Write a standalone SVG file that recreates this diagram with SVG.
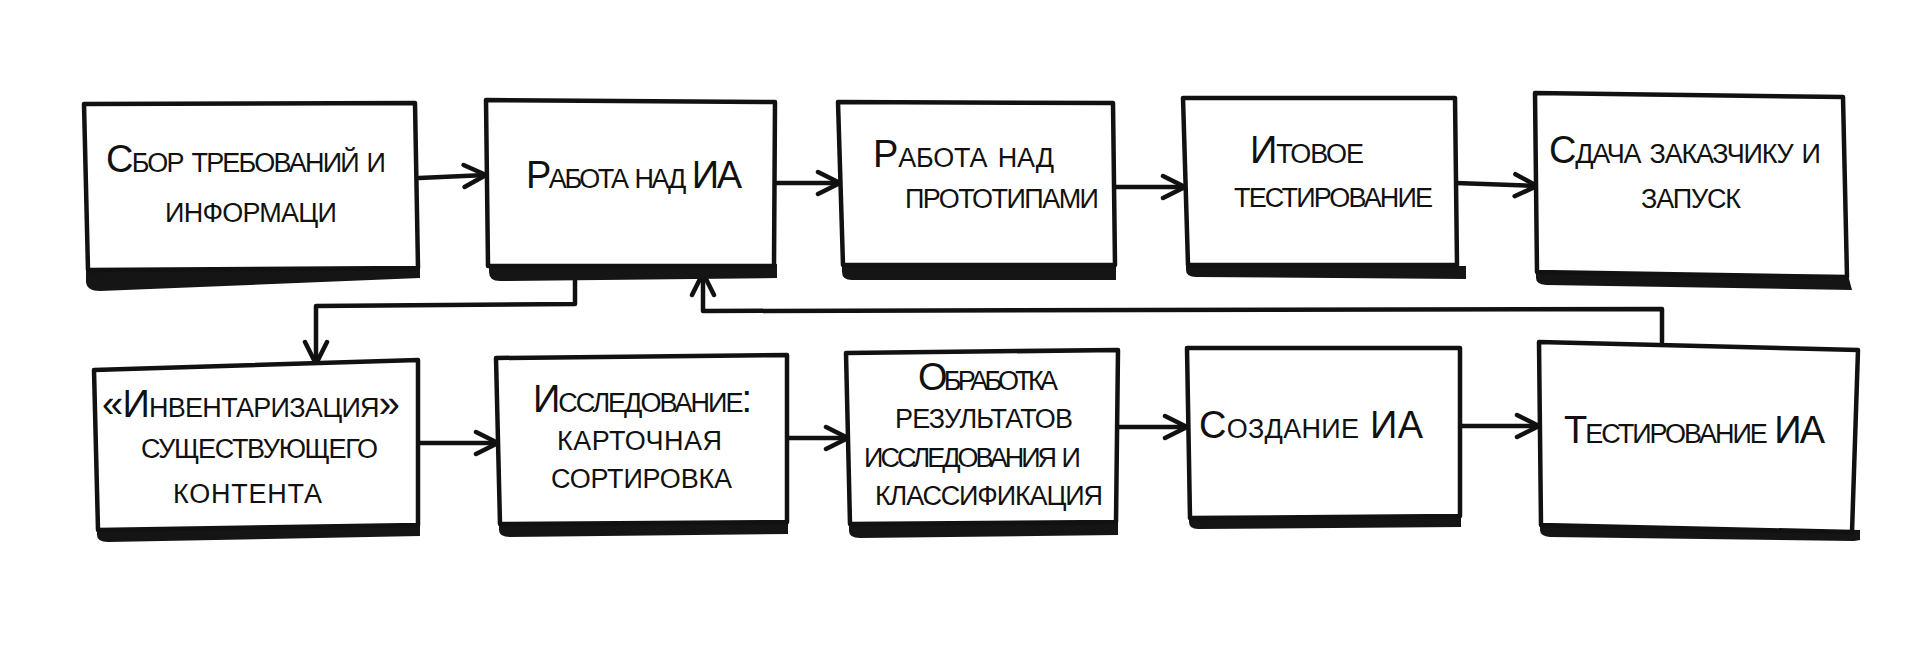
<svg xmlns="http://www.w3.org/2000/svg" width="1920" height="659" viewBox="0 0 1920 659">
<defs>
<style>
.box{fill:#fff;stroke:#111;stroke-width:4.5;stroke-linejoin:round}
.band{fill:#151515}
.t{font-family:"Liberation Sans Narrow","Liberation Sans",sans-serif;font-size:38px;font-variant:small-caps;fill:#111}
.c{fill:none;stroke:#111;stroke-width:4.5;stroke-linecap:round;stroke-linejoin:round}
</style>
<marker id="ah" markerUnits="userSpaceOnUse" markerWidth="30" markerHeight="30" refX="25" refY="13" orient="auto" viewBox="0 0 30 26">
<path d="M3,2 L25,13 L3,24" fill="none" stroke="#111" stroke-width="4.5" stroke-linecap="round" stroke-linejoin="round"/>
</marker>
</defs>
<rect width="1920" height="659" fill="#fff"/>

<g id="connectors">
<path class="c" d="M419,178 L486,175" marker-end="url(#ah)"/>
<path class="c" d="M776,183 L840,183" marker-end="url(#ah)"/>
<path class="c" d="M1115,187 L1185,187" marker-end="url(#ah)"/>
<path class="c" d="M1456,183 L1537,186" marker-end="url(#ah)"/>
<path class="c" d="M418,443 L498,443" marker-end="url(#ah)"/>
<path class="c" d="M788,438 L848,438" marker-end="url(#ah)"/>
<path class="c" d="M1118,427 L1187,427" marker-end="url(#ah)"/>
<path class="c" d="M1460,426 L1539,426" marker-end="url(#ah)"/>
<path class="c" d="M575,278 L575,304 L316,306 L316,364" marker-end="url(#ah)"/>
<path class="c" d="M1662,342 L1662,309 L703,311 L703,273" marker-end="url(#ah)"/>
</g>

<g id="node-sbor">
<path class="band" d="M86,267 L420,263 L420,278 L100,291 Q87,291 86,282 Z"/>
<path class="box" d="M84,104 L415,103 L418,268 L88,270 Z"/>
<text class="t" x="106" y="172" textLength="280" lengthAdjust="spacing">Сбор требований и</text>
<text class="t" x="165" y="222" textLength="172" lengthAdjust="spacing">информаци</text>
</g>

<g id="node-rabota-ia">
<path class="band" d="M489,264 L777,264 L777,278 L500,281 Q489,281 489,272 Z"/>
<path class="box" d="M486,100 L775,102 L774,266 L488,266 Z"/>
<text class="t" x="526" y="188" textLength="216" lengthAdjust="spacing">Работа над ИА</text>
</g>

<g id="node-prototipy">
<path class="band" d="M842,264 L1116,264 L1116,280 L852,280 Q842,280 842,272 Z"/>
<path class="box" d="M838,102 L1113,103 L1115,265 L843,265 Z"/>
<text class="t" x="873" y="167" textLength="181" lengthAdjust="spacing">Работа над</text>
<text class="t" x="905" y="208" textLength="194" lengthAdjust="spacing">прототипами</text>
</g>

<g id="node-itog">
<path class="band" d="M1186,264 L1466,266 L1466,279 L1196,277 Q1186,277 1186,270 Z"/>
<path class="box" d="M1183,98 L1455,98 L1457,265 L1188,265 Z"/>
<text class="t" x="1250" y="163" textLength="114" lengthAdjust="spacing">Итовое</text>
<text class="t" x="1234" y="207" textLength="199" lengthAdjust="spacing">тестирование</text>
</g>

<g id="node-sdacha">
<path class="band" d="M1536,271 L1848,275 L1852,290 L1546,285 Q1536,284 1536,278 Z"/>
<path class="box" d="M1535,93 L1843,97 L1847,277 L1537,272 Z"/>
<text class="t" x="1549" y="163" textLength="272" lengthAdjust="spacing">Сдача заказчику и</text>
<text class="t" x="1641" y="208" textLength="100" lengthAdjust="spacing">запуск</text>
</g>

<g id="node-inventar">
<path class="band" d="M97,528 L420,523 L420,536 L108,542 Q97,542 97,535 Z"/>
<path class="box" d="M94,370 L418,360 L418,525 L98,530 Z"/>
<text class="t" x="102" y="417" textLength="298" lengthAdjust="spacing">«Инвентаризация»</text>
<text class="t" x="141" y="458" textLength="237" lengthAdjust="spacing">существующего</text>
<text class="t" x="173" y="503" textLength="149" lengthAdjust="spacing">контента</text>
</g>

<g id="node-issled">
<path class="band" d="M499,522 L788,521 L788,534 L510,537 Q499,537 499,530 Z"/>
<path class="box" d="M496,358 L787,355 L787,522 L500,524 Z"/>
<text class="t" x="533" y="412" textLength="219" lengthAdjust="spacing">Исследование:</text>
<text class="t" x="557" y="450" textLength="165" lengthAdjust="spacing">карточная</text>
<text class="t" x="551" y="488" textLength="181" lengthAdjust="spacing">сортировка</text>
</g>

<g id="node-obrabotka">
<path class="band" d="M849,522 L1118,520 L1118,535 L860,538 Q849,538 849,531 Z"/>
<path class="box" d="M846,353 L1118,350 L1116,522 L850,524 Z"/>
<text class="t" x="918" y="390" textLength="140" lengthAdjust="spacing">Обработка</text>
<text class="t" x="895" y="428" textLength="178" lengthAdjust="spacing">результатов</text>
<text class="t" x="864" y="467" textLength="217" lengthAdjust="spacing">исследования и</text>
<text class="t" x="875" y="505" textLength="228" lengthAdjust="spacing">классификация</text>
</g>

<g id="node-sozdanie">
<path class="band" d="M1189,516 L1461,514 L1461,527 L1198,529 Q1189,529 1189,522 Z"/>
<path class="box" d="M1187,348 L1460,348 L1460,516 L1190,518 Z"/>
<text class="t" x="1199" y="438" textLength="224" lengthAdjust="spacing">Создание ИА</text>
</g>

<g id="node-test-ia">
<path class="band" d="M1540,524 L1860,530 L1860,540 L1854,541 L1550,537 Q1540,536 1540,530 Z"/>
<path class="box" d="M1539,342 L1858,350 L1852,532 L1541,525 Z"/>
<text class="t" x="1564" y="443" textLength="261" lengthAdjust="spacing">Тестирование ИА</text>
</g>
</svg>
